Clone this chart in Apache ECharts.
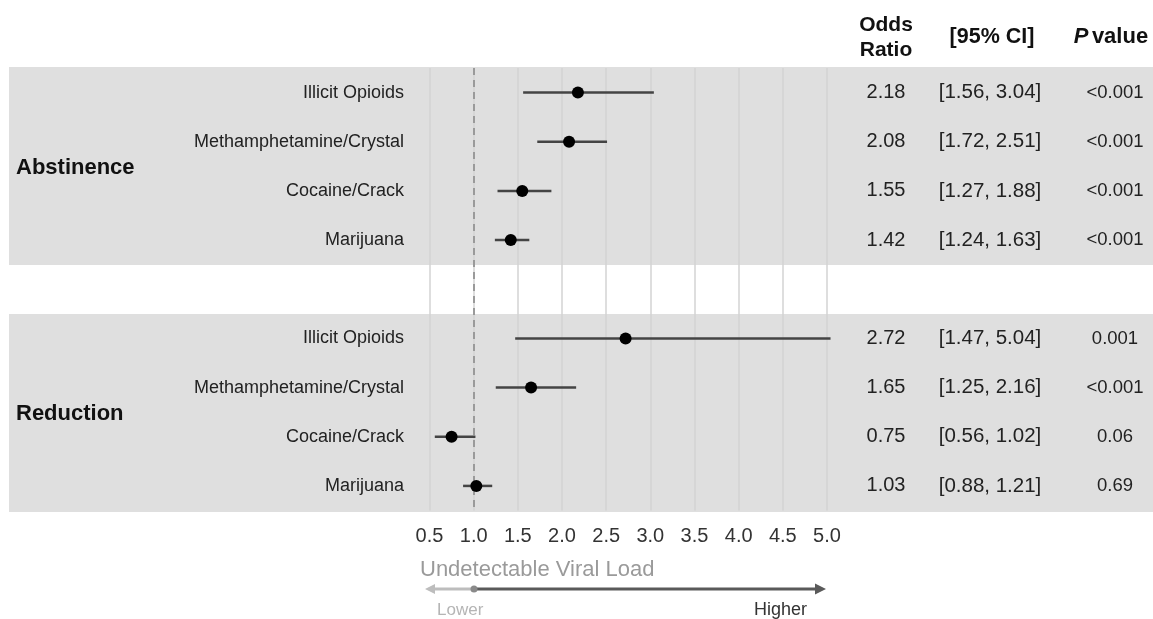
<!DOCTYPE html>
<html>
<head>
<meta charset="utf-8">
<script src="https://cdn.jsdelivr.net/npm/echarts@6/dist/echarts.min.js"></script>
<style>html,body{margin:0;padding:0;background:#fff;}#c{width:1153px;height:619px;}</style>
</head>
<body>
<div id="c"></div>
<script>
const groups = ['Abstinence', 'Reduction'];
const groupRow = [1.5, 6.5];
const categories = ['Illicit Opioids', 'Methamphetamine/Crystal', 'Cocaine/Crack', 'Marijuana',
                    'Illicit Opioids', 'Methamphetamine/Crystal', 'Cocaine/Crack', 'Marijuana'];
const rowIndex = [0, 1, 2, 3, 5, 6, 7, 8];
const oddsRatio = [2.18, 2.08, 1.55, 1.42, 2.72, 1.65, 0.75, 1.03];
const ciLow = [1.56, 1.72, 1.27, 1.24, 1.47, 1.25, 0.56, 0.88];
const ciHigh = [3.04, 2.51, 1.88, 1.63, 5.04, 2.16, 1.02, 1.21];
const pValues = ['<0.001', '<0.001', '<0.001', '<0.001', '0.001', '<0.001', '0.06', '0.69'];
const xTicks = [0.5, 1.0, 1.5, 2.0, 2.5, 3.0, 3.5, 4.0, 4.5, 5.0];
const refLine = 1.0;

const FONT = '"Liberation Sans", Arial, Helvetica, sans-serif';

const data = rowIndex.map((r, i) => [oddsRatio[i], ciLow[i], ciHigh[i], r, categories[i],
  oddsRatio[i].toFixed(2), '[' + ciLow[i].toFixed(2) + ', ' + ciHigh[i].toFixed(2) + ']', pValues[i]]);
const groupData = groups.map((g, i) => [1, groupRow[i], g]);

const chart = echarts.init(document.getElementById('c'), null, {renderer: 'canvas'});

const option = {
  animation: false,
  backgroundColor: '#ffffff',
  grid: {left: 429.5, width: 397.5, top: 68, height: 442.5},
  xAxis: {
    type: 'value', min: xTicks[0], max: xTicks[xTicks.length - 1], interval: 0.5,
    axisLine: {show: false}, axisTick: {show: false},
    splitLine: {show: true, lineStyle: {color: '#d3d3d3', width: 1.5}},
    axisLabel: {margin: 16, fontSize: 20, color: '#333', fontFamily: FONT,
      formatter: v => v.toFixed(1)}
  },
  yAxis: {
    type: 'value', inverse: true, min: -0.5, max: 8.5,
    show: false, splitLine: {show: false}
  },
  graphic: [
    {type: 'rect', z: -100, silent: true, shape: {x: 9, y: 67, width: 1144, height: 198}, style: {fill: '#dfdfdf'}},
    {type: 'rect', z: -100, silent: true, shape: {x: 9, y: 314, width: 1144, height: 198}, style: {fill: '#dfdfdf'}},
    {type: 'text', style: {text: 'Odds', x: 886, y: 25, textAlign: 'center', textVerticalAlign: 'middle', font: 'bold 21px ' + FONT, fill: '#111'}},
    {type: 'text', style: {text: 'Ratio', x: 886, y: 50, textAlign: 'center', textVerticalAlign: 'middle', font: 'bold 21px ' + FONT, fill: '#111'}},
    {type: 'text', style: {text: '[95% CI]', x: 992, y: 37, textAlign: 'center', textVerticalAlign: 'middle', font: 'bold 21.5px ' + FONT, fill: '#111'}},
    {type: 'text', style: {text: '{i|P} {b|value}', x: 1111, y: 37, textAlign: 'center', textVerticalAlign: 'middle',
      rich: {i: {font: 'italic bold 22px ' + FONT, fill: '#111'}, b: {font: 'bold 22px ' + FONT, fill: '#111'}}}},
    {type: 'text', style: {text: 'Undetectable Viral Load', x: 420, y: 570, textAlign: 'left', textVerticalAlign: 'middle', font: '22px ' + FONT, fill: '#9a9a9a'}},
    {type: 'line', shape: {x1: 434, y1: 589, x2: 474, y2: 589}, style: {stroke: '#bdbdbd', lineWidth: 3}},
    {type: 'polygon', shape: {points: [[425, 589], [435, 584], [435, 594]]}, style: {fill: '#bdbdbd'}},
    {type: 'line', shape: {x1: 474, y1: 589, x2: 816, y2: 589}, style: {stroke: '#5a5a5a', lineWidth: 3}},
    {type: 'polygon', shape: {points: [[826, 589], [815, 583.5], [815, 594.5]]}, style: {fill: '#5a5a5a'}},
    {type: 'circle', shape: {cx: 474, cy: 589, r: 3.5}, style: {fill: '#8a8a8a'}},
    {type: 'text', style: {text: 'Lower', x: 437, y: 610, textAlign: 'left', textVerticalAlign: 'middle', font: '17px ' + FONT, fill: '#b5b5b5'}},
    {type: 'text', style: {text: 'Higher', x: 807, y: 610, textAlign: 'right', textVerticalAlign: 'middle', font: '18px ' + FONT, fill: '#333'}}
  ],
  series: [
    {
      type: 'custom', clip: false, z: 5,
      data: data,
      encode: {x: [0, 1, 2], y: 3},
      markLine: {
        silent: true, symbol: 'none', label: {show: false},
        lineStyle: {color: '#9a9a9a', type: [7, 5], width: 2},
        data: [{xAxis: refLine}]
      },
      renderItem: function (params, api) {
        const row = api.value(3);
        const pOr = api.coord([api.value(0), row]);
        const pLo = api.coord([api.value(1), row]);
        const pHi = api.coord([api.value(2), row]);
        const y = pOr[1];
        const txt = (t, x, align, size) => ({type: 'text', style: {text: t, x: x, y: y, textAlign: align,
          textVerticalAlign: 'middle', font: size + 'px ' + FONT, fill: '#222'}});
        return {
          type: 'group',
          children: [
            {type: 'line', shape: {x1: pLo[0], y1: y, x2: pHi[0], y2: y}, style: {stroke: '#444', lineWidth: 2.5}},
            {type: 'circle', shape: {cx: pOr[0], cy: y, r: 6}, style: {fill: '#000'}},
            txt(api.value(4), 404, 'right', 18),
            txt(api.value(5), 886, 'center', 20),
            txt(api.value(6), 990, 'center', 20.5),
            txt(api.value(7), 1115, 'center', 18.5)
          ]
        };
      }
    },
    {
      type: 'custom', clip: false, z: 5,
      data: groupData,
      encode: {x: 0, y: 1},
      renderItem: function (params, api) {
        const p = api.coord([api.value(0), api.value(1)]);
        return {type: 'text', style: {text: api.value(2), x: 16, y: p[1] + 2, textAlign: 'left',
          textVerticalAlign: 'middle', font: 'bold 22px ' + FONT, fill: '#111'}};
      }
    }
  ]
};
chart.setOption(option);
</script>
</body>
</html>
